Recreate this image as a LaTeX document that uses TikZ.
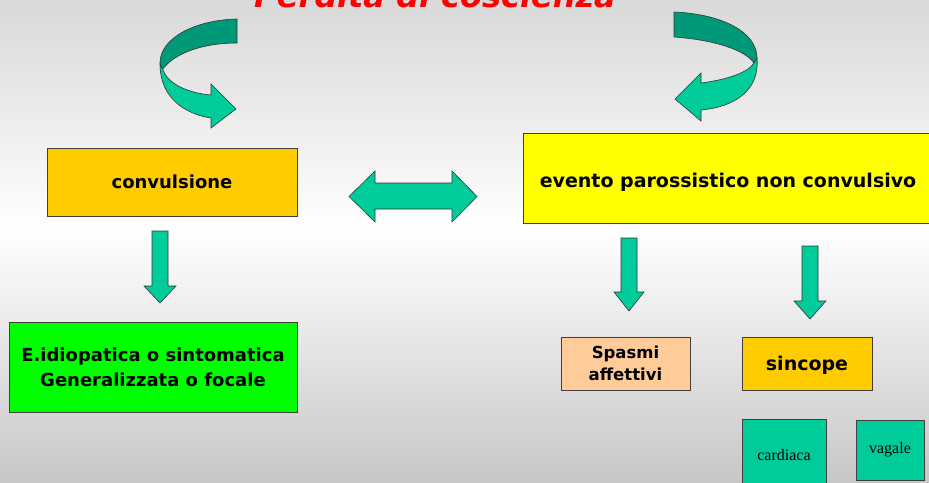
\documentclass[tikz,border=0pt]{standalone}
\usepackage{fontspec}
\setmainfont{DejaVu Sans}
\newfontfamily\serifbox{Liberation Serif}
\definecolor{cOrange}{HTML}{FFCC00}
\definecolor{cYellow}{HTML}{FFFF00}
\definecolor{cGreen}{HTML}{00FF00}
\definecolor{cPeach}{HTML}{FFCC99}
\definecolor{cTeal}{HTML}{00CC99}
\definecolor{cDarkTeal}{HTML}{009977}
\definecolor{cRed}{HTML}{FF0000}
\begin{document}
\begin{tikzpicture}[x=1pt,y=-1pt,
  boxn/.style={draw=black!75,line width=0.8pt,inner sep=0pt,align=center,font=\bfseries\fontsize{18}{25}\selectfont},
  smallbox/.style={draw=black!75,line width=0.8pt,inner sep=0pt,fill=cTeal,font=\serifbox\fontsize{16}{19}\selectfont},
  blockarrow/.style={draw=black!80,line width=0.6pt,fill=cTeal,line join=miter},
  darkribbon/.style={draw=black!80,line width=0.6pt,fill=cDarkTeal},
]
\useasboundingbox (0,0) rectangle (929,482);
\clip (0,0) rectangle (929,482);
% background
\fill[top color=black!15,bottom color=white] (0,0) rectangle (929,231);
\fill[top color=white,bottom color=black!22] (0,230) rectangle (929,482);
% title
\node[anchor=base,text=cRed,font=\bfseries\itshape\fontsize{32}{36}\selectfont,inner sep=0pt] (title) at (435,7) {Perdita di coscienza};
% curved arrows
\draw[darkribbon] (237,19) .. controls (195,20) and (160,38) .. (160,63) -- (162,70) .. controls (175,52) and (205,43) .. (237,43) -- cycle;
\draw[blockarrow] (160,64) .. controls (160,98) and (185,114) .. (211,118) -- (211,128) -- (236,109) -- (211,84) -- (211,95) .. controls (188,93) and (168,84) .. (163,70) -- cycle;
\draw[darkribbon] (674,12) .. controls (722,14) and (757,32) .. (757,58) .. controls (757,60) .. (754,63) .. controls (745,50) and (715,40) .. (674,37) -- cycle;
\draw[blockarrow] (757,58) .. controls (760,90) and (735,107) .. (701,110) -- (701,121) -- (675,99) -- (701,73) -- (701,83) .. controls (725,80) and (748,73) .. (754,63) -- cycle;
% boxes
\node[boxn,fill=cOrange,minimum width=250pt,minimum height=68pt] (conv) at (172,182) {convulsione};
\node[boxn,fill=cYellow,minimum width=410pt,minimum height=90pt,font=\bfseries\fontsize{19}{25}\selectfont] (evento) at (728,178) {\raisebox{-4pt}[\height][\depth]{evento parossistico non convulsivo}};
\node[boxn,fill=cGreen,minimum width=288pt,minimum height=90pt] (idio) at (153,367) {E.idiopatica o sintomatica\\Generalizzata o focale};
\node[boxn,fill=cPeach,minimum width=129pt,minimum height=53pt,font=\bfseries\fontsize{16.5}{22}\selectfont] (spasmi) at (625.5,363.5) {Spasmi\\affettivi};
\node[boxn,fill=cOrange,minimum width=130pt,minimum height=53pt,font=\bfseries\fontsize{19}{22}\selectfont] (sincope) at (807,363.5) {\raisebox{-2pt}[\height][\depth]{sincope}};
\node[smallbox,minimum width=84pt,minimum height=72pt] (cardiaca) at (784,455) {cardiaca};
\node[smallbox,minimum width=68pt,minimum height=60pt] (vagale) at (890,450) {vagale};
% block arrows
\draw[blockarrow] (152,231) -- (168,231) -- (168,286) -- (176,286) -- (160,303) -- (144,286) -- (152,286) -- cycle;
\draw[blockarrow] (621,238) -- (637,238) -- (637,292) -- (644,292) -- (629,311) -- (614,292) -- (621,292) -- cycle;
\draw[blockarrow] (802,246) -- (818,246) -- (818,301) -- (826,301) -- (810,319) -- (794,301) -- (802,301) -- cycle;
\draw[blockarrow] (349,196.5) -- (375,171) -- (375,183) -- (452,183) -- (452,171) -- (477,196.5) -- (452,222) -- (452,209) -- (375,209) -- (375,222) -- cycle;
\end{tikzpicture}
\end{document}
